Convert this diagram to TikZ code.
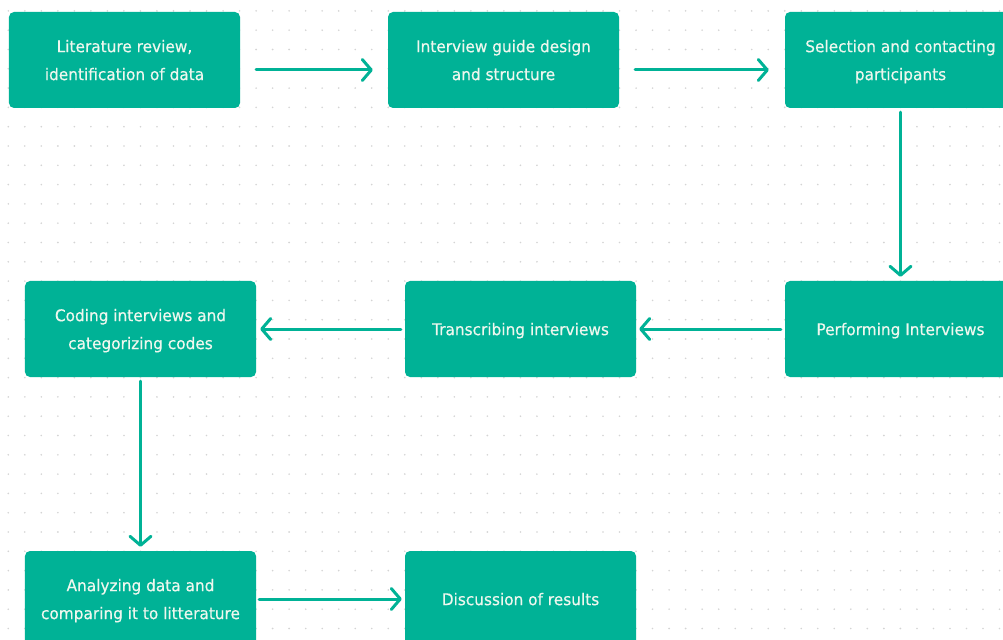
\documentclass[tikz,border=0pt]{standalone}
\usepackage{fontspec}
\setmainfont[FakeStretch=0.95,FakeBold=0.4]{DejaVu Sans}
\usetikzlibrary{arrows.meta}
\definecolor{flowteal}{RGB}{0,178,150}
\definecolor{flowtext}{RGB}{238,247,238}
\definecolor{griddot}{RGB}{212,212,212}
\begin{document}
\begin{tikzpicture}[x=1bp,y=-1bp,
  stepbox/.style={rectangle, rounded corners=5bp, fill=flowteal,
    minimum width=231bp, minimum height=96bp, inner sep=0pt,
    text depth=0pt,
    text=flowtext, align=center, font=\fontsize{16.2}{28}\selectfont},
  flow/.style={draw=flowteal, line width=3bp, line cap=round,
    -{Straight Barb[length=9bp,width=21bp,round]}}]
\useasboundingbox (0,0) rectangle (1003,640);
\clip (0,0) rectangle (1003,640);
\fill[white] (0,0) rectangle (1003,640);
% dotted canvas grid
\foreach \i in {0,...,60}{
  \foreach \j in {0,...,32}{
    \fill[griddot] ({8.3+16.52*\i},{10.9+19.3*\j}) circle[radius=0.9bp];
  }}
% process steps
\node[stepbox] (lit)   at (124.5,60)  {Literature review,\\identification of data};
\node[stepbox] (guide) at (503.5,60)  {Interview guide design\\and structure};
\node[stepbox] (sel)   at (900.5,60)  {Selection and contacting\\participants};
\node[stepbox] (perf)  at (900.5,329) {Performing Interviews};
\node[stepbox] (trans) at (520.5,329) {Transcribing interviews};
\node[stepbox] (code)  at (140.5,329) {Coding interviews and\\categorizing codes};
\node[stepbox] (ana)   at (140.5,599) {Analyzing data and\\comparing it to litterature};
\node[stepbox] (disc)  at (520.5,599) {Discussion of results};
% connectors
\draw[flow, shorten <=16bp, shorten >=15bp] ([yshift=-10bp]lit.east) -- ([yshift=-10bp]guide.west);
\draw[flow, shorten <=16bp, shorten >=16bp] ([yshift=-10bp]guide.east) -- ([yshift=-10bp]sel.west);
\draw[flow, shorten <=4bp, shorten >=4bp] (sel.south) -- (perf.north);
\draw[flow, shorten <=4bp, shorten >=3bp] (perf.west) -- (trans.east);
\draw[flow, shorten <=4bp, shorten >=4bp] (trans.west) -- (code.east);
\draw[flow, shorten <=4bp, shorten >=4bp] (code.south) -- (ana.north);
\draw[flow, shorten <=3bp, shorten >=3bp] (ana.east) -- (disc.west);
\end{tikzpicture}
\end{document}
